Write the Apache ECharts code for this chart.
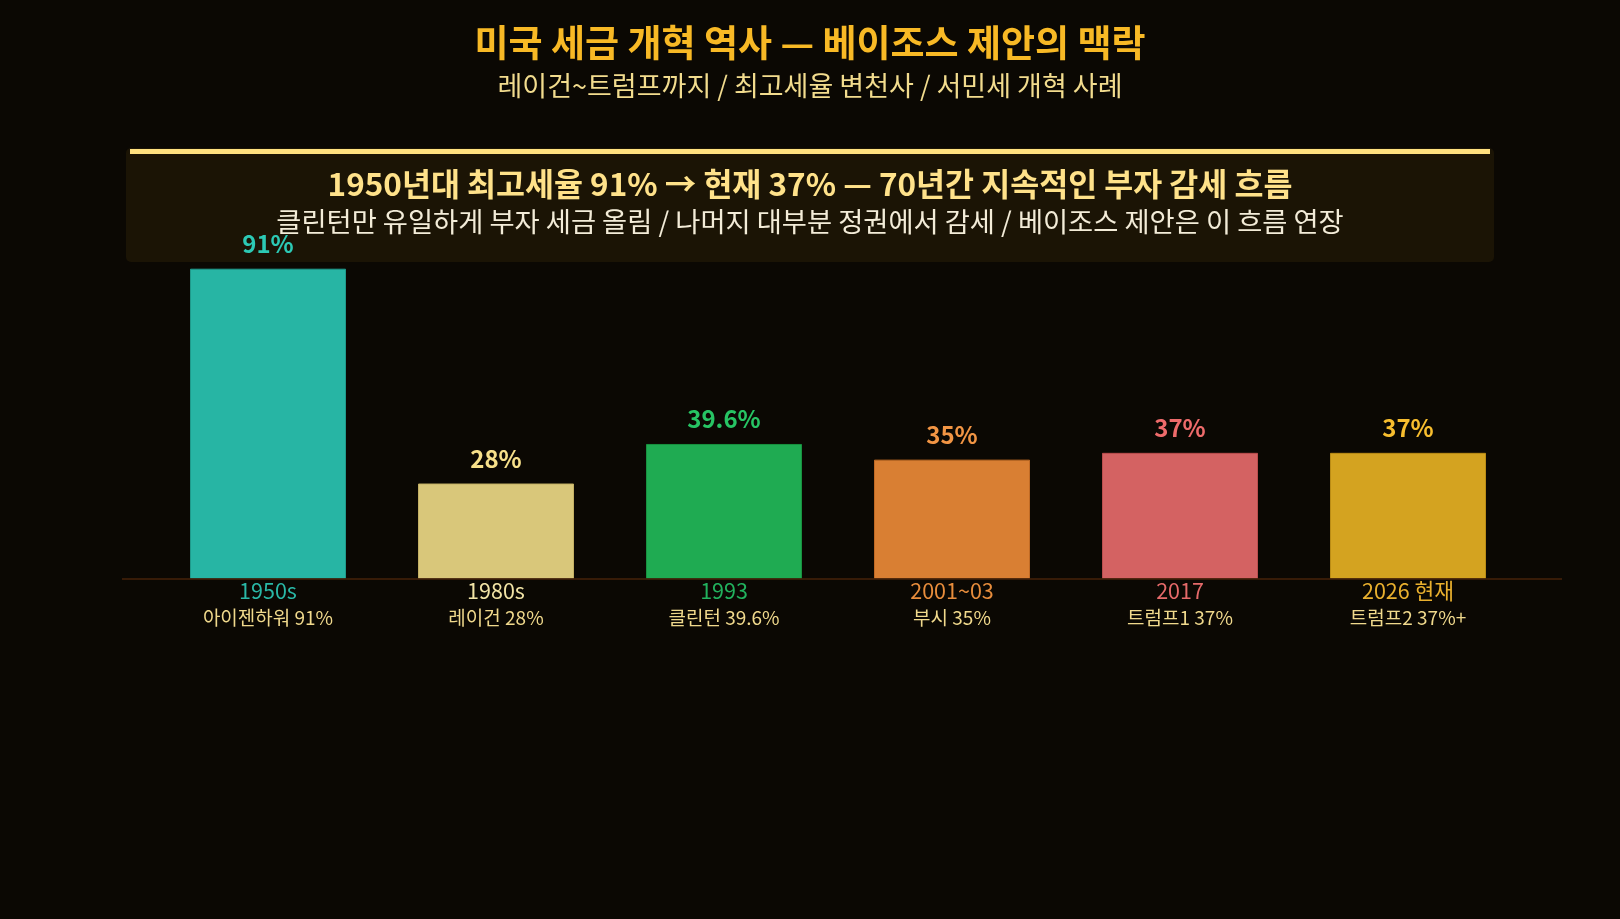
<!DOCTYPE html>
<html>
<head>
<meta charset="utf-8">
<script src="https://cdn.jsdelivr.net/npm/echarts@6/dist/echarts.min.js"></script>
<style>
html,body{margin:0;padding:0;background:#0b0803;}
#c{width:1620px;height:919px;}
</style>
</head>
<body>
<div id="c"></div>
<script>
const categories = ['1950s', '1980s', '1993', '2001~03', '2017', '2026 현재'];
const details = ['아이젠하워 91%', '레이건 28%', '클린턴 39.6%', '부시 35%', '트럼프1 37%', '트럼프2 37%+'];
const values = [91, 28, 39.6, 35, 37, 37];
const valueLabels = ['91%', '28%', '39.6%', '35%', '37%', '37%'];

const titleText = '미국 세금 개혁 역사 — 베이조스 제안의 맥락';
const subtitleText = '레이건~트럼프까지 / 최고세율 변천사 / 서민세 개혁 사례';
const boxTitle = '1950년대 최고세율 91% → 현재 37% — 70년간 지속적인 부자 감세 흐름';
const boxSub = '클린턴만 유일하게 부자 세금 올림 / 나머지 대부분 정권에서 감세 / 베이조스 제안은 이 흐름 연장';

const barColors = ['#27b5a4', '#d9c77a', '#1fab52', '#d97f33', '#d46262', '#d4a320'];
const borderColors = ['#1f9a8b', '#c4b064', '#18923f', '#c06a25', '#bb4e4e', '#bb8c15'];
const labelColors = ['#2cc9b5', '#f7e08a', '#27c464', '#f29544', '#ee6b6b', '#f7bd2e'];
const catColors = ['#2ab8a7', '#f2e4a6', '#22b25e', '#e88d3c', '#e56a6a', '#e9b02e'];

const FONT = '"Noto Sans CJK KR", "Noto Sans", sans-serif';

const chart = echarts.init(document.getElementById('c'), null, {renderer: 'canvas'});

const rich = {};
catColors.forEach((c, i) => {
  rich['c' + i] = {color: c, fontSize: 21.5, lineHeight: 24, fontFamily: FONT};
});
rich.d = {color: '#f0d98c', fontSize: 19, lineHeight: 30, fontFamily: FONT};

const option = {
  backgroundColor: '#0b0803',
  animation: false,
  grid: {left: 154, right: 98, top: 238, bottom: 340},
  xAxis: {
    type: 'category',
    data: categories,
    axisLine: {show: false},
    axisTick: {show: false},
    axisLabel: {
      margin: 0,
      interval: 0,
      formatter: function (v, i) {
        return '{c' + i + '|' + v + '}\n{d|' + details[i] + '}';
      },
      rich: rich
    }
  },
  yAxis: {
    type: 'value',
    min: 0,
    max: 100,
    show: false,
    splitLine: {show: false}
  },
  series: [{
    type: 'bar',
    barWidth: 156,
    data: values.map((v, i) => ({
      value: v,
      itemStyle: {color: barColors[i], borderColor: borderColors[i], borderWidth: 1},
      label: {color: labelColors[i], formatter: valueLabels[i]}
    })),
    label: {
      show: true,
      position: 'top',
      distance: 13,
      fontSize: 24,
      fontWeight: 'bold',
      fontFamily: FONT
    },
    z: 3
  }],
  graphic: [
    {type: 'text', z: 10, style: {text: titleText, x: 810, y: 43, textAlign: 'center', textVerticalAlign: 'middle',
      fontSize: 37, fontWeight: 'bold', fontFamily: FONT, fill: '#f8b925'}},
    {type: 'text', z: 10, style: {text: subtitleText, x: 810, y: 86, textAlign: 'center', textVerticalAlign: 'middle',
      fontSize: 27, fontFamily: FONT, fill: '#f2dc8e'}},
    {type: 'rect', z: 1, shape: {x: 126, y: 148, width: 1368, height: 114, r: 5}, style: {fill: '#1b1405'}},
    {type: 'rect', z: 2, shape: {x: 130, y: 149, width: 1360, height: 5}, style: {fill: '#ffe07f'}},
    {type: 'text', z: 10, style: {text: boxTitle, x: 810, y: 184, textAlign: 'center', textVerticalAlign: 'middle',
      fontSize: 31.5, fontWeight: 'bold', fontFamily: FONT, fill: '#ffe28a'}},
    {type: 'text', z: 10, style: {text: boxSub, x: 810, y: 222, textAlign: 'center', textVerticalAlign: 'middle',
      fontSize: 27.3, fontFamily: FONT, fill: '#f3ecd8'}},
    {type: 'line', z: 5, shape: {x1: 122, y1: 579, x2: 1562, y2: 579}, style: {stroke: '#3f1f08', lineWidth: 2, opacity: 0.85}}
  ]
};
chart.setOption(option);
</script>
</body>
</html>
